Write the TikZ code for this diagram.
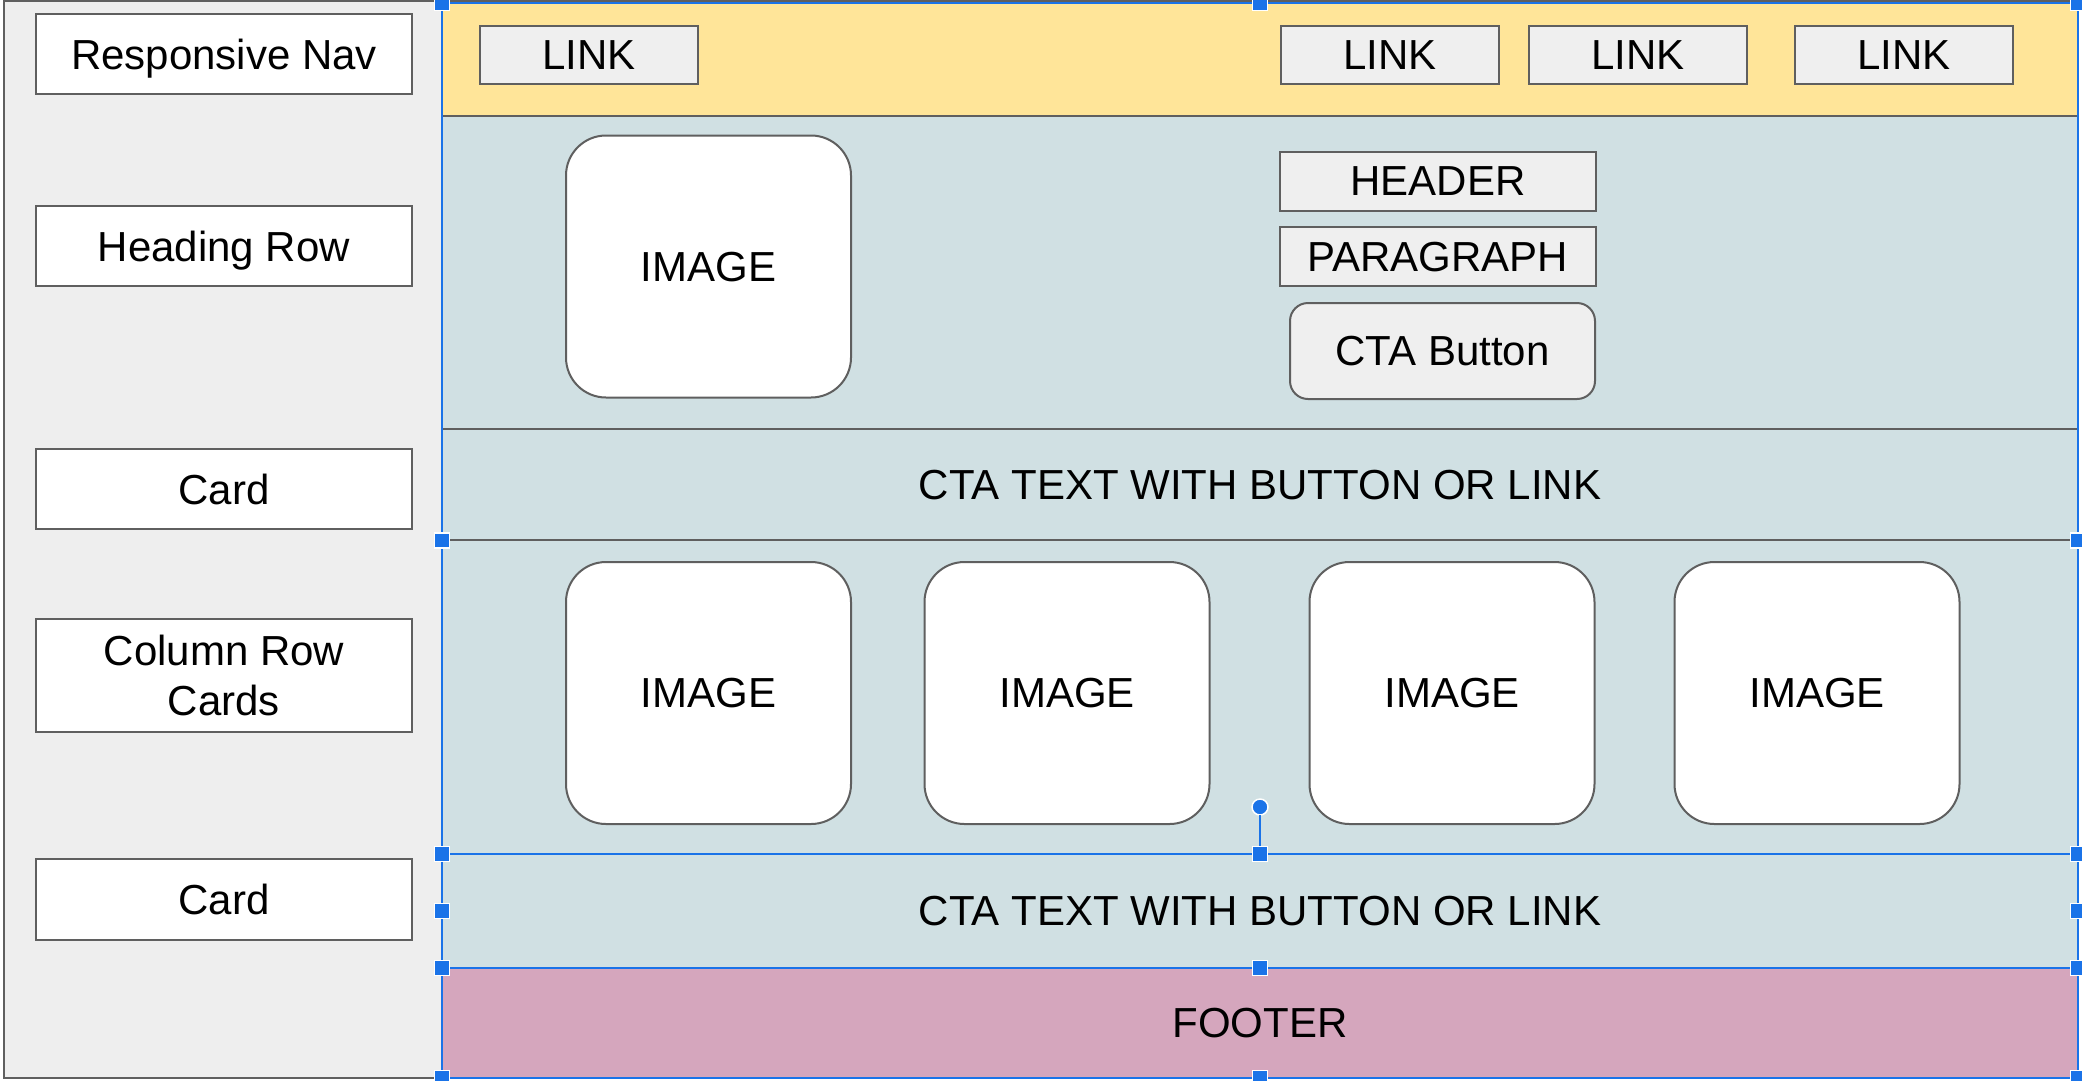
\documentclass[tikz,border=0pt]{standalone}
\usepackage{fontspec}
\setmainfont{Liberation Sans}
\definecolor{navyellow}{HTML}{FFE599}
\definecolor{rowblue}{HTML}{D0E0E3}
\definecolor{footpink}{HTML}{D5A6BD}
\definecolor{panelgray}{HTML}{EEEEEE}
\definecolor{linkgray}{HTML}{EFEFEF}
\definecolor{edgegray}{HTML}{5F5F5F}
\definecolor{selblue}{HTML}{1A73E8}
\begin{document}
\begin{tikzpicture}[x=1pt,y=-1pt,line width=2pt,inner sep=0pt,outer sep=0pt,text depth=0pt,
  font=\fontsize{42}{50}\selectfont,
  band/.style={rectangle,draw=edgegray,minimum width=1636pt},
  sidebox/.style={rectangle,draw=edgegray,fill=white,minimum width=376pt,align=center},
  linkbox/.style={rectangle,draw=edgegray,fill=linkgray,minimum width=218pt,minimum height=58pt},
  textbox/.style={rectangle,draw=edgegray,fill=linkgray,minimum width=316pt,minimum height=59pt},
  imgbox/.style={rectangle,draw=edgegray,fill=white,rounded corners=40pt,minimum width=285pt,minimum height=262pt},
  selbox/.style={rectangle,draw=selblue,line width=2pt,minimum width=1636pt},
  handle/.style={rectangle,draw=white,fill=selblue,line width=1.5pt,minimum size=15pt}]

    \useasboundingbox[fill=white] (0,0) rectangle (2082,1080);

    %side panel
    \node (P) at (223,539.5)[rectangle,draw=edgegray,fill=panelgray,minimum width=438pt,minimum height=1077pt]{};
    \node (Snav) at (224,54)[sidebox,minimum height=80pt]{Responsive Nav};
    \node (Shead) at (224,246)[sidebox,minimum height=80pt]{Heading Row};
    \node (Scard1) at (224,489)[sidebox,minimum height=80pt]{Card};
    \node (Scols) at (224,675.5)[sidebox,minimum height=113pt]{Column Row\\Cards};
    \node (Scard2) at (224,899.5)[sidebox,minimum height=81pt]{Card};

    %rows
    \node (Bnav) at (1260,58.25)[band,fill=navyellow,minimum height=114.5pt]{};
    \node (Bhead) at (1260,272.25)[band,fill=rowblue,minimum height=313.5pt]{};
    \node (Bcta1) at (1260,484.5)[band,fill=rowblue,minimum height=111pt]{CTA TEXT WITH BUTTON OR LINK};
    \node (Bcards) at (1260,697)[band,fill=rowblue,minimum height=314pt]{};
    \node (Bcta2) at (1260,911)[band,fill=rowblue,minimum height=114pt]{CTA TEXT WITH BUTTON OR LINK};
    \node (Bfoot) at (1260,1023)[band,fill=footpink,minimum height=110pt]{FOOTER};

    %nav links
    \node (L1) at (589,55)[linkbox]{LINK};
    \node (L2) at (1390,55)[linkbox]{LINK};
    \node (L3) at (1638,55)[linkbox]{LINK};
    \node (L4) at (1904,55)[linkbox]{LINK};

    %heading row
    \node (Ihead) at (708.5,266.5)[imgbox]{IMAGE};
    \node (Th) at (1438,181.5)[textbox]{HEADER};
    \node (Tp) at (1438,256.5)[textbox]{PARAGRAPH};
    \node (Tb) at (1442.5,351)[rectangle,draw=edgegray,fill=linkgray,rounded corners=18pt,minimum width=305pt,minimum height=96pt]{CTA Button};

    %column cards
    \node (C1) at (708.5,693)[imgbox]{IMAGE};
    \node (C2) at (1067,693)[imgbox]{IMAGE};
    \node (C3) at (1452,693)[imgbox]{IMAGE};
    \node (C4) at (1817,693)[imgbox]{IMAGE};

    %selection
    \node (Sel1) at (1260,540.5)[selbox,minimum height=1075pt]{};
    \node (Sel2) at (1260,911)[selbox,minimum height=114pt]{};
    \node (Sel3) at (1260,1023)[selbox,minimum height=110pt]{};

    \node (Rot) at (1260,807)[circle,draw=white,fill=selblue,line width=1.5pt,minimum size=16pt]{};
    \draw [selblue,line width=2pt] (Rot) to (Sel2.north);

    %handles
    \node (H1) at (Sel1.north west)[handle]{};
    \node (H2) at (Sel1.north)[handle]{};
    \node (H3) at (Sel1.north east)[handle]{};
    \node (H4) at (Sel1.west)[handle]{};
    \node (H5) at (Sel1.east)[handle]{};
    \node (H6) at (Sel2.north west)[handle]{};
    \node (H7) at (Sel2.north)[handle]{};
    \node (H8) at (Sel2.north east)[handle]{};
    \node (H9) at (Sel2.west)[handle]{};
    \node (H10) at (Sel2.east)[handle]{};
    \node (H11) at (Sel3.north west)[handle]{};
    \node (H12) at (Sel3.north)[handle]{};
    \node (H13) at (Sel3.north east)[handle]{};
    \node (H14) at (Sel3.south west)[handle]{};
    \node (H15) at (Sel3.south)[handle]{};
    \node (H16) at (Sel3.south east)[handle]{};
  \end{tikzpicture}
\end{document}
